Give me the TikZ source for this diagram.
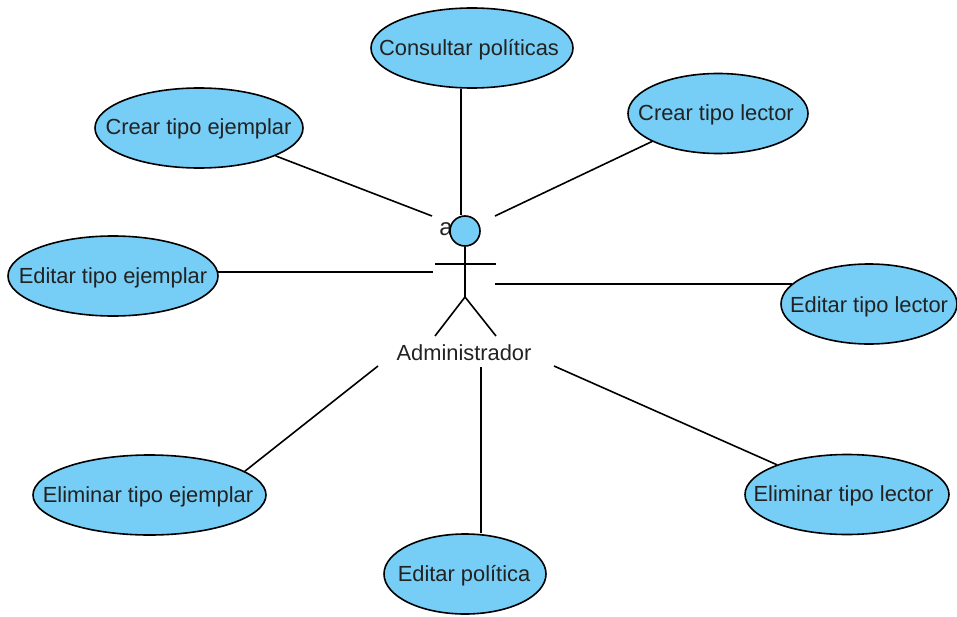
\documentclass[tikz,border=0pt]{standalone}
\usepackage{fontspec}
\setmainfont{Liberation Sans}
\usetikzlibrary{shapes.geometric}
\definecolor{ucfill}{HTML}{76CDF5}
\definecolor{uctext}{HTML}{222222}
\tikzset{
  uc/.style={ellipse,draw=black,line width=1.2pt,fill=ucfill,inner sep=0pt},
  conn/.style={draw=black,line width=1.2pt},
  lbl/.style={inner sep=0pt,text=uctext,font=\fontsize{16.4}{18}\selectfont}
}
\begin{document}
\begin{tikzpicture}[x=0.75pt,y=-0.75pt]
\useasboundingbox (0,0) rectangle (957,617);
\newcommand{\usecase}[8]{\node[uc,minimum width=#4*1.5pt,minimum height=#5*1.5pt] (#1) at (#2,#3) {};
  \node[lbl] (#1t) at (#6,#7) {#8};}
\usecase{cp}{472}{48}{101}{40}{469}{50}{Consultar políticas}
\usecase{ce}{199}{128}{104}{40}{198.5}{129}{Crear tipo ejemplar}
\usecase{cl}{718}{113.5}{90}{40}{716}{115}{Crear tipo lector}
\usecase{ee}{113}{276}{105}{40}{113}{278}{Editar tipo ejemplar}
\usecase{el}{869}{304}{88}{40}{869}{307}{Editar tipo lector}
\usecase{de}{149.5}{495}{116.5}{40}{148}{497}{Eliminar tipo ejemplar}
\usecase{dl}{847}{494.5}{102}{40}{843.5}{496}{Eliminar tipo lector}
\usecase{ep}{465}{574}{81}{40}{464}{576}{Editar política}
\node[lbl,font=\fontsize{18}{20}\selectfont] (aa) at (446,229) {a};
\node[circle,draw=black,line width=1.2pt,fill=ucfill,minimum size=22.5pt,inner sep=0pt] (head) at (465,231) {};
\node[lbl] (admin) at (464,353) {Administrador};
\coordinate (neck) at (465,297);
\coordinate (armL) at (435,264);
\coordinate (armR) at (496,264);
\coordinate (footL) at (435,336);
\coordinate (footR) at (496,336);
\coordinate (e1) at (432,216);
\coordinate (e2) at (461,215);
\coordinate (e3) at (495,216);
\coordinate (e4) at (433,272);
\coordinate (e5) at (495,284);
\coordinate (e6) at (378,366);
\coordinate (e7) at (481,367);
\coordinate (e8) at (554,366);
\draw[conn] (head) -- (neck);
\draw[conn] (armL) -- (armR);
\draw[conn] (footL) -- (neck) -- (footR);
\draw[conn] (ce.-20) -- (e1);
\draw[conn] (e2 |- cp.south) -- (e2);
\draw[conn] (cl.203.6) -- (e3);
\draw[conn] (e4 -| ee.2) -- (e4);
\draw[conn] (e5 -| el.165.4) -- (e5);
\draw[conn] (de.14.5) -- (e6);
\draw[conn] (e7 |- ep.north) -- (e7);
\draw[conn] (dl.157.8) -- (e8);
\end{tikzpicture}
\end{document}
